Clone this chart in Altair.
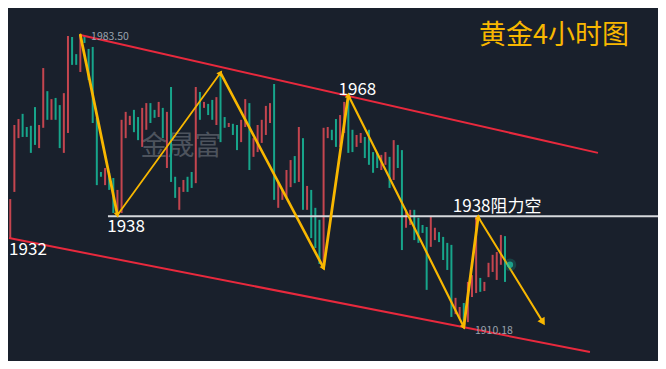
import altair as alt
import pandas as pd

# ---- candle data (4h gold) ----
highs = [1944.1,1946.6,1942.3,1960.9,1962.4,1963.7,1960.4,1960.7,1965.4,1960.9,
         1975.2,1969.4,1967.4,1967.7,1965.9,1968.9,1983.25,1983.0,1978.7,1983.5,
         1983.3,1980.0,1980.5,1962.7,1949.1,1950.1,1948.9,1947.6,1944.6,1962.2,
         1964.2,1963.2,1964.7,1962.9,1965.2,1966.4,1966.4,1964.7,1966.7,1965.2,
         1964.2,1970.45,1947.9,1945.3,1947.1,1947.9,1949.1,1970.45,1969.2,1966.7,
         1966.2,1967.2,1967.9,1974.0,1962.9,1961.4,1961.2,1960.9,1962.2,1967.4,
         1966.4,1957.6,1960.9,1962.2,1965.7,1966.4,1971.2,1946.6,1944.6,1949.6,
         1952.1,1953.1,1960.4,1957.6,1945.6,1944.6,1940.1,1937.1,1960.2,1960.4,
         1959.7,1962.4,1963.4,1966.7,1968.4,1959.7,1958.4,1958.9,1957.9,1959.7,
         1954.1,1953.9,1953.4,1954.1,1952.9,1957.1,1955.9,1954.6,1939.6,1939.6,
         1939.6,1937.6,1935.8,1935.3,1937.8,1935.1,1934.0,1932.8,1931.3,1930.8,
         1917.5,1915.2,1916.2,1921.5,1923.2,1937.8,1922.5,1921.5,1926.3,1928.3,
         1929.0,1933.3,1933.0]
lows = [1941.6,1939.6,1932.5,1944.1,1957.6,1957.9,1957.9,1953.9,1955.9,1955.1,
        1960.2,1962.2,1962.2,1962.2,1955.1,1953.9,1958.9,1976.0,1976.0,1974.2,
        1981.5,1972.2,1961.4,1945.8,1947.9,1945.8,1944.6,1938.8,1938.3,1938.8,
        1957.6,1960.9,1959.1,1957.1,1955.4,1959.7,1961.4,1962.7,1962.9,1957.6,
        1950.1,1946.6,1942.6,1939.6,1944.1,1944.1,1945.1,1946.3,1962.2,1965.2,
        1963.4,1962.2,1960.9,1956.6,1960.2,1960.4,1958.4,1954.6,1956.6,1960.4,
        1949.6,1952.9,1954.1,1956.4,1958.4,1961.4,1942.1,1940.1,1942.1,1942.8,
        1945.3,1946.3,1946.6,1939.6,1939.6,1932.5,1930.0,1926.0,1925.0,1957.6,
        1957.1,1955.4,1955.4,1958.9,1953.9,1954.1,1955.4,1956.4,1952.6,1950.9,
        1948.9,1950.1,1949.6,1950.9,1945.1,1947.1,1950.1,1929.5,1935.1,1935.8,
        1932.0,1931.3,1933.8,1919.5,1930.3,1932.0,1931.5,1927.0,1924.5,1912.7,
        1913.4,1912.4,1910.18,1911.4,1917.7,1918.7,1919.0,1919.2,1922.7,1924.0,
        1922.0,1925.8,1921.5]
dirs = ("TTRRRTTTTR" "RTRTTRRTTR" "TTTTTRTTRR" "RRTTRRTTRT" "RTTRRTTRTR"
        "TTRTTRTTRR" "TRRRRRTRRR" "RTRTRTTTRR" "TTRRTTRRTT" "TTRRTRTTRR"
        "TTTTRRTTTT" "RRTRRRTRRR" "RRT")

# zigzag path (bar index, price)
path_idx = [19, 28, 53, 78, 84, 112, 115.5, 131.2]
path_price = [1983.5, 1938.3, 1974.0, 1925.0, 1968.4, 1910.18, 1937.8, 1911.4]
seg_width = [2.8, 1.8, 2.6, 2.8, 2.2, 2.8, 2.0]
head_angle = [168, 36, 152, 8, 153, 7, 148]
head_size = [40, 40, 40, 40, 40, 40, 70]

# channel lines
chan_name = ["upper", "upper", "lower", "lower"]
chan_idx = [19, 144.55, 1.7, 142.6]
chan_price = [1983.5, 1953.9, 1932.5, 1903.9]

resist_price = 1938.0
resist_from = 25.7
resist_to = 159.2

big_text = ["1968", "1938", "1932", "1938阻力空"]
big_idx = [86.2, 30.1, 6.3, 120.1]
big_price = [1969.7, 1935.4, 1929.6, 1940.2]
small_text = ["1983.50", "1910.18"]
small_idx = [21.6, 114.7]
small_price = [1983.0, 1909.2]

glow_idx = [123.2]
glow_price = [1925.8]

TEAL = "#17a58b"
RED = "#c4454f"
GOLD = "#f8b700"
FONT = "Noto Sans CJK SC"

xs = alt.Scale(domain=[1.4553, 159.11], nice=False, zero=False)
ys = alt.Scale(domain=[1901.64, 1990.28], nice=False, zero=False)

candles = pd.DataFrame({
    "idx": list(range(len(highs))),
    "high": highs,
    "low": lows,
    "dir": ["涨" if d == "R" else "跌" for d in dirs],
})

candle_layer = alt.Chart(candles).mark_rule(strokeWidth=2).encode(
    x=alt.X("idx:Q", scale=xs, axis=None),
    y=alt.Y("high:Q", scale=ys, axis=None),
    y2="low:Q",
    color=alt.Color("dir:N", scale=alt.Scale(domain=["涨", "跌"], range=[RED, TEAL]), legend=None),
)

chan = pd.DataFrame({"name": chan_name, "idx": chan_idx, "price": chan_price})
chan_layer = alt.Chart(chan).mark_line(color="#e8293d", strokeWidth=2).encode(
    x=alt.X("idx:Q", scale=xs, axis=None),
    y=alt.Y("price:Q", scale=ys, axis=None),
    detail="name:N",
)

resist = pd.DataFrame({"a": [resist_from], "b": [resist_to], "p": [resist_price]})
resist_layer = alt.Chart(resist).mark_rule(color="#d6d8dc", strokeWidth=2).encode(
    x=alt.X("a:Q", scale=xs, axis=None),
    x2="b:Q",
    y=alt.Y("p:Q", scale=ys, axis=None),
)

seg_rows = []
for k in range(len(path_idx) - 1):
    seg_rows.append({"seg": k, "ord": 0, "idx": path_idx[k], "price": path_price[k], "w": seg_width[k]})
    seg_rows.append({"seg": k, "ord": 1, "idx": path_idx[k + 1], "price": path_price[k + 1], "w": seg_width[k]})
segs = pd.DataFrame(seg_rows)
zig_layer = alt.Chart(segs).mark_line(color=GOLD, strokeCap="round").encode(
    x=alt.X("idx:Q", scale=xs, axis=None),
    y=alt.Y("price:Q", scale=ys, axis=None),
    detail="seg:N",
    order="ord:Q",
    strokeWidth=alt.StrokeWidth("w:Q", scale=None),
)

heads = pd.DataFrame({"idx": path_idx[1:], "price": path_price[1:], "ang": head_angle, "sz": head_size})
head_layer = alt.Chart(heads).mark_point(shape="triangle-up", filled=True, color=GOLD, opacity=1).encode(
    x=alt.X("idx:Q", scale=xs, axis=None),
    y=alt.Y("price:Q", scale=ys, axis=None),
    angle=alt.Angle("ang:Q", scale=None),
    size=alt.Size("sz:Q", scale=None),
)

big = pd.DataFrame({"t": big_text, "idx": big_idx, "price": big_price})
big_layer = alt.Chart(big).mark_text(font=FONT, fontSize=17, color="#ffffff", align="center", baseline="middle").encode(
    x=alt.X("idx:Q", scale=xs, axis=None),
    y=alt.Y("price:Q", scale=ys, axis=None),
    text="t:N",
)

small = pd.DataFrame({"t": small_text, "idx": small_idx, "price": small_price})
small_layer = alt.Chart(small).mark_text(font=FONT, fontSize=10.5, color="#9aa2ad", align="left", baseline="middle").encode(
    x=alt.X("idx:Q", scale=xs, axis=None),
    y=alt.Y("price:Q", scale=ys, axis=None),
    text="t:N",
)

glow = pd.DataFrame({"idx": glow_idx, "price": glow_price})
glow_outer = alt.Chart(glow).mark_circle(color=TEAL, opacity=0.25, size=160).encode(
    x=alt.X("idx:Q", scale=xs, axis=None),
    y=alt.Y("price:Q", scale=ys, axis=None),
)
glow_inner = alt.Chart(glow).mark_circle(color="#1fc9a8", opacity=0.7, size=40).encode(
    x=alt.X("idx:Q", scale=xs, axis=None),
    y=alt.Y("price:Q", scale=ys, axis=None),
)

title_layer = alt.Chart(pd.DataFrame({"t": ["黄金4小时图"]})).mark_text(
    font=FONT, fontSize=27, color=GOLD, align="center", baseline="middle"
).encode(x=alt.value(546), y=alt.value(28), text="t:N")

mark_layer = alt.Chart(pd.DataFrame({"t": ["金晟富"]})).mark_text(
    font=FONT, fontSize=27, color="#575d66", align="center", baseline="middle", opacity=0.85
).encode(x=alt.value(173), y=alt.value(139), text="t:N")

chart = alt.layer(
    mark_layer, candle_layer, chan_layer, resist_layer, zig_layer, head_layer,
    glow_outer, glow_inner, big_layer, small_layer, title_layer,
).properties(
    width=650, height=353, autosize=alt.AutoSizeParams(type="none"), padding=0,
    background="#19202c",
).configure_view(stroke=None)

chart.save("out.html", embed_options={"renderer": "svg", "actions": False})
